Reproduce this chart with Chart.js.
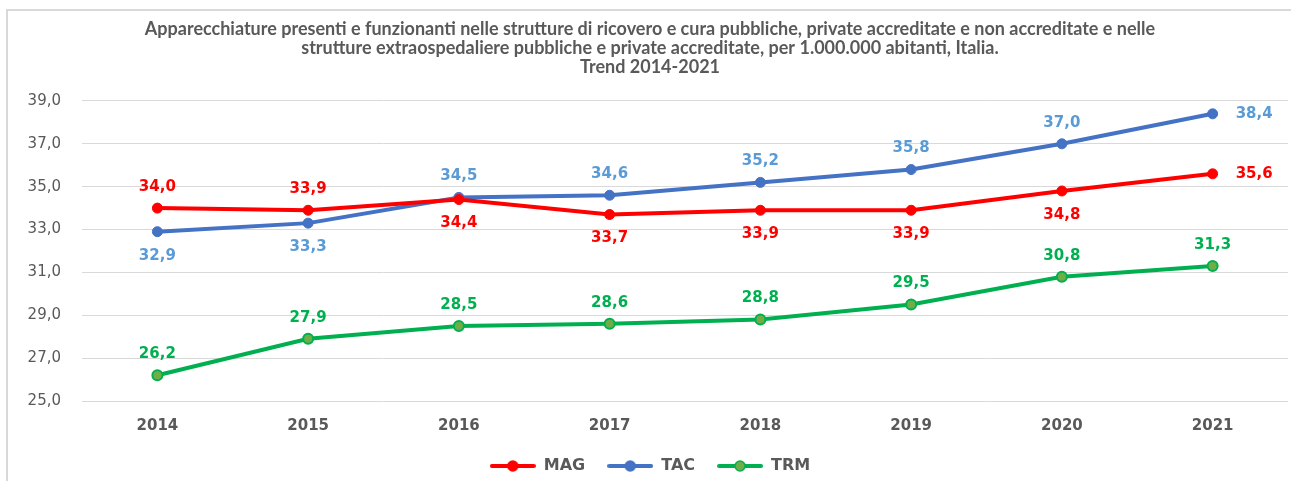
<!DOCTYPE html>
<html>
<head>
<meta charset="utf-8">
<script src="https://cdn.jsdelivr.net/npm/chart.js@4/dist/chart.umd.min.js"></script>
<style>
  html, body { margin: 0; padding: 0; background: #ffffff; }
  #wrap { position: relative; width: 1291px; height: 481px; overflow: hidden; }
  #frame { position: absolute; left: 6px; top: 9px; width: 1400px; height: 600px;
           border-left: 2px solid #d9d9d9; border-top: 2px solid #d9d9d9; }
  canvas { position: absolute; left: 0; top: 0; }
</style>
</head>
<body>
<div id="wrap">
  <div id="frame"></div>
  <canvas id="c" width="1291" height="481"></canvas>
</div>
<script>
const years = ['2014', '2015', '2016', '2017', '2018', '2019', '2020', '2021'];
const magValues = [34.0, 33.9, 34.4, 33.7, 33.9, 33.9, 34.8, 35.6];
const tacValues = [32.9, 33.3, 34.5, 34.6, 35.2, 35.8, 37.0, 38.4];
const trmValues = [26.2, 27.9, 28.5, 28.6, 28.8, 29.5, 30.8, 31.3];
const yTicks = [25, 27, 29, 31, 33, 35, 37, 39];
const titleLines = [
  'Apparecchiature presenti e funzionanti nelle strutture di ricovero e cura pubbliche, private accreditate e non accreditate e nelle',
  'strutture extraospedaliere pubbliche e private accreditate, per 1.000.000 abitanti, Italia.',
  'Trend 2014-2021'
];

const GRAY = '#595959';
const fmt = v => v.toFixed(1).replace('.', ',');

function legendIcon(lineColor, fill, border) {
  const c = document.createElement('canvas');
  c.width = 46; c.height = 14;
  const x = c.getContext('2d');
  x.strokeStyle = lineColor; x.lineWidth = 4; x.lineCap = 'round';
  x.beginPath(); x.moveTo(2, 7); x.lineTo(44, 7); x.stroke();
  x.beginPath(); x.arc(23, 7, 5, 0, Math.PI * 2);
  x.fillStyle = fill; x.fill();
  x.lineWidth = 1.5; x.strokeStyle = border; x.stroke();
  return c;
}
const legendIcons = [
  legendIcon('#FF0000', '#FF0000', '#FF0000'),
  legendIcon('#4472C4', '#4472C4', '#4472C4'),
  legendIcon('#00B050', '#70AD47', '#00B050')
];

const labelPlacement = {
  MAG: ['above', 'above', 'below', 'below', 'below', 'below', 'below', 'right'],
  TAC: ['below', 'below', 'above', 'above', 'above', 'above', 'above', 'right'],
  TRM: ['above', 'above', 'above', 'above', 'above', 'above', 'above', 'above']
};

const dataLabelsPlugin = {
  id: 'dataLabels',
  afterDatasetsDraw(chart) {
    const ctx = chart.ctx;
    ctx.save();
    ctx.font = 'bold 15px "DejaVu Sans"';
    ctx.textBaseline = 'middle';
    chart.data.datasets.forEach((ds, di) => {
      const meta = chart.getDatasetMeta(di);
      const place = labelPlacement[ds.label];
      meta.data.forEach((pt, i) => {
        const txt = fmt(ds.data[i]);
        ctx.fillStyle = ds.labelColor;
        let x = pt.x, y = pt.y;
        if (place[i] === 'above') { ctx.textAlign = 'center'; y -= 21; }
        else if (place[i] === 'below') { ctx.textAlign = 'center'; y += 24; }
        else { ctx.textAlign = 'left'; x += 23; }
        ctx.fillText(txt, x, y);
      });
    });
    ctx.restore();
  }
};

const legendShift = {
  id: 'legendShift',
  afterLayout(chart) {
    if (chart.legend) { chart.legend.top -= 7; chart.legend.bottom -= 7; }
  }
};

new Chart(document.getElementById('c'), {
  type: 'line',
  data: {
    labels: years,
    datasets: [
      { label: 'MAG', data: magValues, borderColor: '#FF0000', backgroundColor: '#FF0000',
        pointBackgroundColor: '#FF0000', pointBorderColor: '#FF0000', labelColor: '#FF0000',
        borderWidth: 4, pointRadius: 5, pointBorderWidth: 1, tension: 0 },
      { label: 'TAC', data: tacValues, borderColor: '#4472C4', backgroundColor: '#4472C4',
        pointBackgroundColor: '#4472C4', pointBorderColor: '#4472C4', labelColor: '#5B9BD5',
        borderWidth: 4, pointRadius: 5, pointBorderWidth: 1, tension: 0 },
      { label: 'TRM', data: trmValues, borderColor: '#00B050', backgroundColor: '#70AD47',
        pointBackgroundColor: '#70AD47', pointBorderColor: '#00B050', labelColor: '#00B050',
        borderWidth: 4, pointRadius: 5, pointBorderWidth: 2, tension: 0 }
    ]
  },
  options: {
    responsive: false,
    animation: false,
    layout: { autoPadding: false, padding: { left: 12, right: 3, top: 0, bottom: 0 } },
    plugins: {
      title: {
        display: true,
        text: titleLines,
        color: GRAY,
        font: { family: 'Lato', weight: 'bold', size: 18, lineHeight: 1.055 },
        padding: { top: 20, bottom: 24 }
      },
      legend: {
        position: 'bottom',
        maxHeight: 38,
        labels: {
          color: GRAY,
          font: { family: '"DejaVu Sans"', weight: 'bold', size: 16 },
          usePointStyle: true,
          pointStyleWidth: 46,
          boxHeight: 14,
          padding: 22,
          generateLabels(chart) {
            const items = Chart.defaults.plugins.legend.labels.generateLabels(chart);
            items.forEach((it, i) => { it.pointStyle = legendIcons[i]; });
            return items;
          }
        }
      },
      tooltip: { enabled: false }
    },
    scales: {
      x: {
        offset: true,
        afterFit(scale) { scale.paddingLeft = 0; scale.paddingRight = 0; },
        grid: { display: false },
        border: { display: false },
        ticks: { color: GRAY, font: { family: '"DejaVu Sans"', weight: 'bold', size: 15 }, padding: 8 }
      },
      y: {
        min: 25, max: 39,
        afterFit(scale) { scale.width = 70; },
        afterBuildTicks(scale) { scale.ticks = yTicks.map(v => ({ value: v })); },
        grid: { color: '#d9d9d9', lineWidth: 1, drawTicks: false },
        border: { display: false },
        ticks: { color: GRAY, font: { family: '"DejaVu Sans"', size: 15 }, padding: 21,
                 callback: v => fmt(v) }
      }
    }
  },
  plugins: [dataLabelsPlugin, legendShift]
});
</script>
</body>
</html>
